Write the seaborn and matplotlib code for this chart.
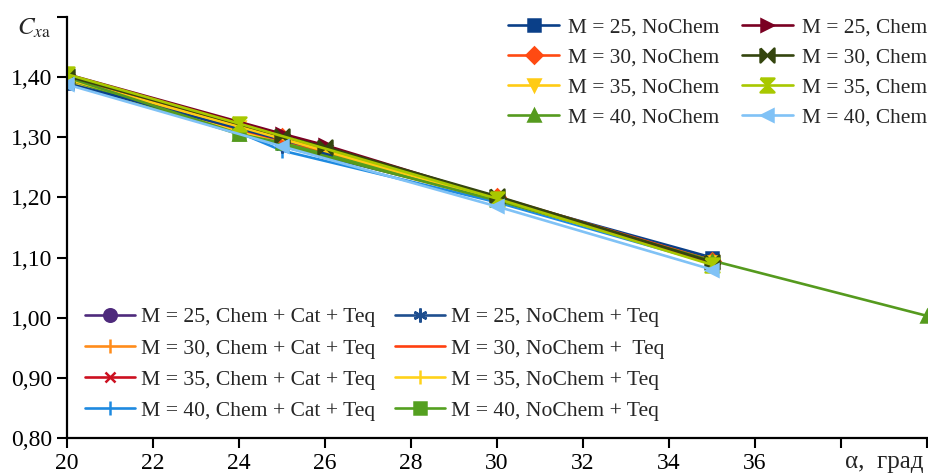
import numpy as np
import pandas as pd
import matplotlib
matplotlib.use("Agg")
import matplotlib.pyplot as plt
import seaborn as sns

# series data: angle of attack (deg) -> Cxa
x_m25_nochem = [20, 25, 26, 30, 35]
y_m25_nochem = [1.390, 1.296, 1.279, 1.199, 1.100]
x_m30_nochem = [20, 25, 30, 35]
y_m30_nochem = [1.398, 1.300, 1.201, 1.095]
x_m35_nochem = [20, 24, 30, 35]
y_m35_nochem = [1.397, 1.318, 1.196, 1.092]
x_m40_nochem = [20, 24, 30, 35, 40]
y_m40_nochem = [1.400, 1.306, 1.195, 1.095, 1.003]

x_m25_chem = [20, 25, 26, 35]
y_m25_chem = [1.405, 1.306, 1.287, 1.090]
x_m30_chem = [20, 25, 26, 30, 35]
y_m30_chem = [1.402, 1.302, 1.284, 1.202, 1.093]
x_m35_chem = [20, 24, 30, 35]
y_m35_chem = [1.405, 1.323, 1.198, 1.088]
x_m40_chem = [20, 25, 30, 35]
y_m40_chem = [1.388, 1.285, 1.185, 1.080]

x_teq = [20, 24, 25, 30, 35]
y_m25_cct = [1.395, 1.312, 1.290, 1.198, 1.095]
y_m30_cct = [1.392, 1.310, 1.288, 1.195, 1.092]
y_m35_cct = [1.396, 1.312, 1.292, 1.197, 1.094]
y_m40_cct = [1.390, 1.308, 1.278, 1.192, 1.090]
y_m25_nct = [1.392, 1.314, 1.285, 1.198, 1.097]
y_m30_nct = [1.394, 1.312, 1.293, 1.199, 1.096]
y_m35_nct = [1.393, 1.309, 1.290, 1.196, 1.093]
y_m40_nct = [1.397, 1.305, 1.291, 1.197, 1.094]

x_ticks = [20, 22, 24, 26, 28, 30, 32, 34, 36, 38, 40]
x_ticklabels = ["20", "22", "24", "26", "28", "30", "32", "34", "36", "", ""]
y_ticks = [0.8, 0.9, 1.0, 1.1, 1.2, 1.3, 1.4, 1.5]
y_ticklabels = ["0,80", "0,90", "1,00", "1,10", "1,20", "1,30", "1,40", ""]

bowtie = [(-1, 1), (0, 0), (1, 1), (1, -1), (0, 0), (-1, -1), (-1, 1)]
hourglass = [(-1, 1), (1, 1), (0, 0), (1, -1), (-1, -1), (0, 0), (-1, 1)]

top_series = [
    ("M = 25, NoChem", x_m25_nochem, y_m25_nochem, "#0A3F88", "s", 9),
    ("M = 30, NoChem", x_m30_nochem, y_m30_nochem, "#FF4A12", "D", 8),
    ("M = 35, NoChem", x_m35_nochem, y_m35_nochem, "#FFCB14", "v", 9),
    ("M = 40, NoChem", x_m40_nochem, y_m40_nochem, "#559A1E", "^", 9),
    ("M = 25, Chem", x_m25_chem, y_m25_chem, "#7A0022", ">", 9),
    ("M = 30, Chem", x_m30_chem, y_m30_chem, "#34450E", bowtie, 10),
    ("M = 35, Chem", x_m35_chem, y_m35_chem, "#A8C800", hourglass, 10),
    ("M = 40, Chem", x_m40_chem, y_m40_chem, "#80C2F6", "<", 9),
]
bottom_series = [
    ("M = 25, Chem + Cat + Teq", x_teq, y_m25_cct, "#4E2A7C", "o", 9),
    ("M = 30, Chem + Cat + Teq", x_teq, y_m30_cct, "#FF8C1A", "|", 10),
    ("M = 35, Chem + Cat + Teq", x_teq, y_m35_cct, "#CC1020", "x", 7),
    ("M = 40, Chem + Cat + Teq", x_teq, y_m40_cct, "#1E8AE0", "|", 10),
    ("M = 25, NoChem + Teq", x_teq, y_m25_nct, "#1F4F8F", (6, 2, 0), 10),
    ("M = 30, NoChem +  Teq", x_teq, y_m30_nct, "#FF4010", None, 0),
    ("M = 35, NoChem + Teq", x_teq, y_m35_nct, "#FFD21A", "|", 10),
    ("M = 40, NoChem + Teq", x_teq, y_m40_nct, "#54A020", "s", 9),
]

sns.set_style("ticks")
plt.rcParams["font.family"] = ["Liberation Serif", "DejaVu Serif"]
plt.rcParams["mathtext.fontset"] = "stix"

fig = plt.figure(figsize=(9.29, 4.75), dpi=100)
ax = fig.add_axes([0.072, 0.078, 0.926, 0.886])


def draw(group):
    handles = []
    for name, xs, ys, col, mk, ms in group:
        df = pd.DataFrame({"alpha": xs, "cxa": ys})
        sns.lineplot(data=df, x="alpha", y="cxa", ax=ax, color=col, marker=mk,
                     markersize=ms, markeredgecolor=col, markeredgewidth=1.8,
                     linewidth=1.9, legend=False)
        handles.append(ax.get_lines()[-1])
    return handles


h_bottom = draw(bottom_series)
h_top = draw(top_series)

ax.set_xlim(20, 40)
ax.set_ylim(0.8, 1.5)
ax.set_xticks(x_ticks)
ax.set_xticklabels(x_ticklabels, fontsize=17)
ax.set_yticks(y_ticks)
ax.set_yticklabels(y_ticklabels, fontsize=17)
ax.set_xlabel("")
ax.set_ylabel("")
ax.tick_params(direction="out", length=7, width=1.5, colors="black")
for s in ["top", "right"]:
    ax.spines[s].set_visible(False)
for s in ["left", "bottom"]:
    ax.spines[s].set_linewidth(1.6)
    ax.spines[s].set_color("black")

fig.text(0.018, 0.94, r"$C_{x\mathrm{a}}$", fontsize=18, va="center", ha="left")
ax.text(39.0, -0.03, "α,  град", transform=ax.get_xaxis_transform(),
        fontsize=18, ha="center", va="top")

leg1 = ax.legend(h_top, [s[0] for s in top_series], ncol=2, loc="upper right",
                 bbox_to_anchor=(1.022, 1.045), frameon=False, fontsize=15.4,
                 handlelength=2.4, columnspacing=1.05, labelspacing=0.47,
                 handletextpad=0.4)
ax.add_artist(leg1)
ax.legend(h_bottom, [s[0] for s in bottom_series], ncol=2, loc="lower left",
          bbox_to_anchor=(-0.002, -0.006), frameon=False, fontsize=15.6,
          handlelength=2.3, columnspacing=0.9, labelspacing=0.51,
          handletextpad=0.3)

fig.savefig("out.png", dpi=100)
